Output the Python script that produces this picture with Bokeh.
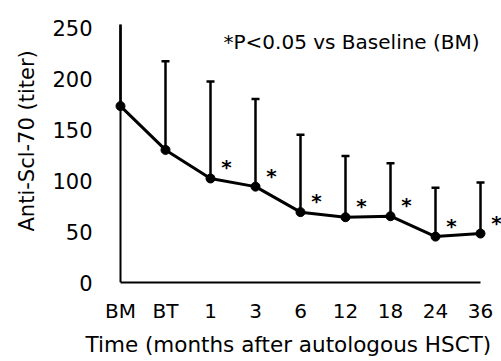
from bokeh.plotting import figure
from bokeh.models import Range1d, FixedTicker, Span, Label, Title, ColumnDataSource
from bokeh.core.properties import value
from bokeh.embed import file_html
from bokeh.resources import INLINE

# ---- data ----
categories = ["BM", "BT", "1", "3", "6", "12", "18", "24", "36"]
mean_titer = [173, 130, 102, 94, 69, 64, 65, 45, 48]
upper_sd = [256, 217, 197, 180, 145, 124, 117, 93, 98]
sig_marks = ["", "", "*", "*", "*", "*", "*", "*", "*"]
y_ticks = [0, 50, 100, 150, 200, 250]

pos = list(range(len(categories)))
src = ColumnDataSource(dict(x=pos, y=mean_titer, up=upper_sd, sig=sig_marks))

FONT = "DejaVu Sans"

p = figure(width=501, height=361,
           x_range=Range1d(-14 / 45, 381 / 45), y_range=Range1d(0, 253),
           output_backend="svg", toolbar_location=None,
           min_border_left=106, min_border_right=0,
           min_border_top=24, min_border_bottom=78)
p.outline_line_color = None
p.xgrid.grid_line_color = None
p.ygrid.grid_line_color = None
p.background_fill_color = "white"

# error bars (upper only) with caps
p.segment(x0="x", y0="y", x1="x", y1="up", source=src, line_color="black", line_width=2.5)
p.scatter(x="x", y="up", source=src, marker="dash", size=8, line_color="black", line_width=2.5)

# mean line + points
p.line(x="x", y="y", source=src, line_color="black", line_width=3)
p.scatter(x="x", y="y", source=src, marker="circle", size=9, fill_color="black", line_color="black")

# significance asterisks
p.text(x="x", y="y", text="sig", source=src, x_offset=16, y_offset=-11,
       text_align="center", text_baseline="middle",
       text_font=value(FONT), text_font_size="20px", text_font_style="bold",
       text_color="black")

# y axis line at x = 0
p.add_layout(Span(location=0, dimension="height", line_color="black", line_width=2))

# note
p.add_layout(Label(x=2.29, y=236, text="*P<0.05 vs Baseline (BM)",
                   text_font=FONT, text_font_size="20px", text_baseline="middle",
                   text_align="left", text_color="black"))

# x axis
xa = p.xaxis[0]
xa.ticker = FixedTicker(ticks=pos)
xa.major_label_overrides = {i: c for i, c in zip(pos, categories)}
xa.bounds = (0, len(categories) - 1)
xa.axis_line_color = "black"
xa.axis_line_width = 2
xa.major_tick_line_color = None
xa.minor_tick_line_color = None
xa.major_tick_out = 0
xa.major_tick_in = 0
xa.major_label_standoff = 16
xa.major_label_text_font = FONT
xa.major_label_text_font_size = "20px"
xa.major_label_text_color = "black"

# y axis
ya = p.yaxis[0]
ya.ticker = FixedTicker(ticks=y_ticks)
ya.axis_line_color = None
ya.major_tick_line_color = None
ya.minor_tick_line_color = None
ya.major_tick_out = 0
ya.major_tick_in = 0
ya.major_label_standoff = 14
ya.major_label_text_font = FONT
ya.major_label_text_font_size = "21px"
ya.major_label_text_color = "black"

# axis titles
p.add_layout(Title(text="Time (months after autologous HSCT)", align="left", offset=-21,
                   standoff=9, text_font=FONT, text_font_size="21.5px",
                   text_font_style="normal", text_color="black"), "below")
p.add_layout(Title(text="Anti-Scl-70 (titer)", align="left", offset=51,
                   standoff=21, text_font=FONT, text_font_size="21px",
                   text_font_style="normal", text_color="black"), "left")

open("out.html", "w").write(file_html(p, INLINE))
